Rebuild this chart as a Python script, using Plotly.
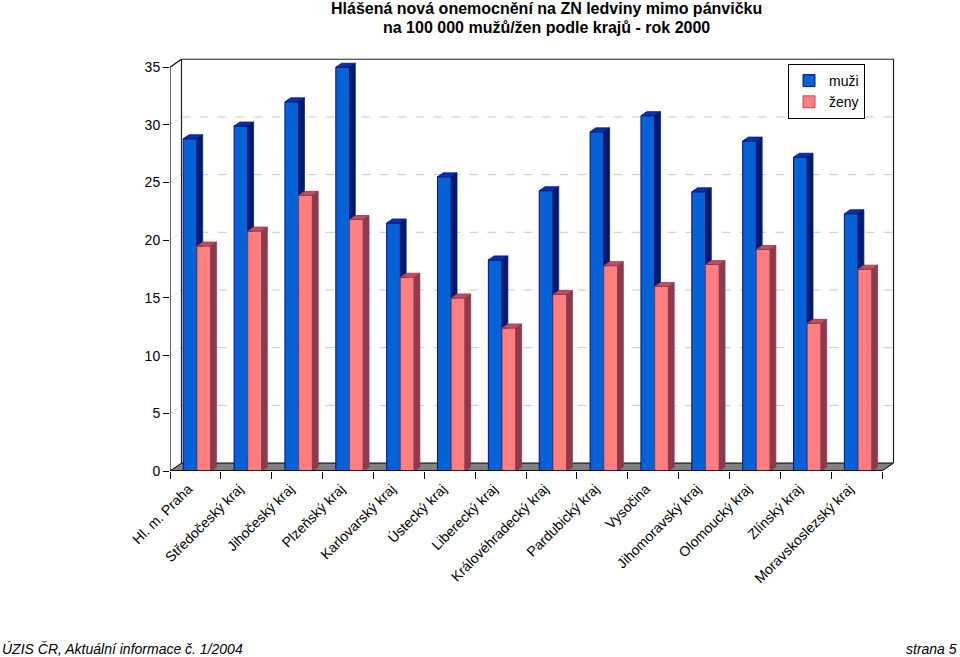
import plotly.graph_objects as go

categories = ["Hl. m. Praha", "Středočeský kraj", "Jihočeský kraj", "Plzeňský kraj",
              "Karlovarský kraj", "Ústecký kraj", "Liberecký kraj", "Královéhradecký kraj",
              "Pardubický kraj", "Vysočina", "Jihomoravský kraj", "Olomoucký kraj",
              "Zlínský kraj", "Moravskoslezský kraj"]
muzi = [28.8, 29.9, 32.0, 35.0, 21.5, 25.5, 18.3, 24.3, 29.4, 30.8, 24.2, 28.6, 27.2, 22.3]
zeny = [19.5, 20.8, 23.9, 21.8, 16.8, 15.0, 12.4, 15.3, 17.8, 16.0, 17.9, 19.2, 12.8, 17.5]
yticks = [0, 5, 10, 15, 20, 25, 30, 35]
series_names = ["muži", "ženy"]

# geometry (data units)
L, T, B = 170, 58, 186
W_PX, H_PX = 726, 413
XR = [-0.5, 13.775]
YR = [0, 35.8]
FDX, FDY = 0.226, 0.69        # floor / wall depth
BDX, BDY = 0.113, 0.345       # bar depth
BW = 0.27
OFF_M, OFF_Z = -0.24, 0.03

n = len(categories)
idx = list(range(n))

BLUE, BLUE_SIDE, BLUE_TOP, BLUE_LINE = "#0562D6", "#001A70", "#0A32A8", "#00107A"
PINK, PINK_SIDE, PINK_TOP, PINK_LINE = "#FF7F80", "#8C3A4C", "#C24C60", "#8C3A4C"
FONT = "Liberation Sans, Arial, sans-serif"

fig = go.Figure()

fig.add_trace(go.Bar(x=idx, y=muzi, name=series_names[0], width=BW, offset=OFF_M,
                     marker=dict(color=BLUE, line=dict(color=BLUE_LINE, width=1)),
                     hoverinfo="skip"))

def poly_trace(xs, ys, fill, line):
    return go.Scatter(x=xs, y=ys, mode="lines", fill="toself", fillcolor=fill,
                      line=dict(color=line, width=0.8), showlegend=False, hoverinfo="skip")

# blue side (visible part above pink front) and blue top
sx, sy, tx, ty = [], [], [], []
for i in idx:
    x1 = i + OFF_M + BW
    sx += [x1, x1, x1 + BDX, x1 + BDX, x1, None]
    sy += [zeny[i], muzi[i], muzi[i] + BDY, zeny[i], zeny[i], None]
    x0 = i + OFF_M
    tx += [x0, x1, x1 + BDX, x0 + BDX, x0, None]
    ty += [muzi[i], muzi[i], muzi[i] + BDY, muzi[i] + BDY, muzi[i], None]
fig.add_trace(poly_trace(sx, sy, BLUE_SIDE, BLUE_SIDE))
fig.add_trace(poly_trace(tx, ty, BLUE_TOP, BLUE_LINE))

fig.add_trace(go.Bar(x=idx, y=zeny, name=series_names[1], width=BW, offset=OFF_Z,
                     marker=dict(color=PINK, line=dict(color=PINK_LINE, width=0.8)),
                     hoverinfo="skip"))

sx, sy, tx, ty = [], [], [], []
for i in idx:
    x0 = i + OFF_Z
    x1 = x0 + BW
    sx += [x1, x1, x1 + BDX, x1 + BDX, x1, None]
    sy += [0, zeny[i], zeny[i] + BDY, BDY, 0, None]
    tx += [x0, x1, x1 + BDX, x0 + BDX, x0, None]
    ty += [zeny[i], zeny[i], zeny[i] + BDY, zeny[i] + BDY, zeny[i], None]
fig.add_trace(poly_trace(sx, sy, PINK_SIDE, PINK_SIDE))
fig.add_trace(poly_trace(tx, ty, PINK_TOP, PINK_LINE))

shapes = []
x_front_l, x_front_r = -0.5, n - 0.5
x_back_l, x_back_r = x_front_l + FDX, x_front_r + FDX
ytop = yticks[-1]
# back-wall gridlines and left-wall stubs
for v in yticks[1:-1]:
    shapes.append(dict(type="line", xref="x", yref="y", x0=x_back_l, x1=x_back_r,
                       y0=v + FDY, y1=v + FDY, layer="below",
                       line=dict(color="#C8C8C8", width=1, dash="dash")))
    shapes.append(dict(type="line", xref="x", yref="y", x0=x_front_l, x1=x_back_l,
                       y0=v, y1=v + FDY, layer="below",
                       line=dict(color="#D0D0D0", width=1, dash="dot")))
# floor
shapes.append(dict(type="path", xref="x", yref="y", layer="below",
                   path=f"M {x_front_l},0 L {x_front_r},0 L {x_back_r},{FDY} L {x_back_l},{FDY} Z",
                   fillcolor="#808080", line=dict(color="#000000", width=1)))
# back wall outline
shapes.append(dict(type="path", xref="x", yref="y", layer="below",
                   path=f"M {x_back_l},{FDY} L {x_back_l},{ytop + FDY} L {x_back_r},{ytop + FDY} L {x_back_r},{FDY}",
                   line=dict(color="#222222", width=1.2)))
# front axis line + left wall top edge
shapes.append(dict(type="path", xref="x", yref="y", layer="above",
                   path=f"M {x_front_l},0 L {x_front_l},{ytop} L {x_back_l},{ytop + FDY}",
                   line=dict(color="#000000", width=1.2)))
# front floor edge
shapes.append(dict(type="line", xref="x", yref="y", layer="above",
                   x0=x_front_l, x1=x_front_r, y0=0, y1=0,
                   line=dict(color="#000000", width=1.5)))

def px_x(p):
    return (p - L) / W_PX
def px_y(p):
    return (657 - B - p) / H_PX

annotations = [
    dict(text="<b>Hlášená nová onemocnění na ZN ledviny mimo pánvičku</b>", xref="paper", yref="paper",
         x=px_x(546), y=px_y(8), xanchor="center", yanchor="middle", showarrow=False,
         font=dict(family=FONT, size=16, color="#000")),
    dict(text="<b>na 100 000 mužů/žen podle krajů - rok 2000</b>", xref="paper", yref="paper",
         x=px_x(546), y=px_y(27), xanchor="center", yanchor="middle", showarrow=False,
         font=dict(family=FONT, size=16, color="#000")),
    dict(text="<i>ÚZIS ČR, Aktuální informace č. 1/2004</i>", xref="paper", yref="paper",
         x=px_x(0), y=px_y(649), xanchor="left", yanchor="middle", showarrow=False,
         font=dict(family=FONT, size=14, color="#000")),
    dict(text="<i>strana 5</i>", xref="paper", yref="paper",
         x=px_x(959), y=px_y(649), xanchor="right", yanchor="middle", showarrow=False,
         font=dict(family=FONT, size=14, color="#000")),
]

boundaries = [i - 0.5 for i in range(n + 1)]

fig.update_layout(
    width=960, height=657,
    margin=dict(l=L, r=960 - L - W_PX, t=T, b=B),
    paper_bgcolor="white", plot_bgcolor="white",
    barmode="overlay",
    showlegend=True,
    legend=dict(x=px_x(788), y=px_y(64), xanchor="left", yanchor="top",
                bordercolor="#000000", borderwidth=1, bgcolor="white",
                font=dict(family=FONT, size=14, color="#000"),
                itemwidth=30, tracegroupgap=0),
    shapes=shapes,
    annotations=annotations,
    xaxis=dict(range=XR, showgrid=False, zeroline=False, showline=False,
               tickmode="array", tickvals=idx, ticktext=categories, tickangle=-45,
               ticks="", ticklen=7, ticklabelstandoff=6, ticklabelshift=-7,
               minor=dict(tickmode="array", tickvals=boundaries, ticks="outside", ticklen=7,
                          tickcolor="#000", tickwidth=1.2, showgrid=False),
               tickfont=dict(family=FONT, size=14, color="#000")),
    yaxis=dict(range=YR, showgrid=False, zeroline=False, showline=False,
               tickmode="array", tickvals=yticks, ticks="outside", ticklen=6,
               tickcolor="#000", tickwidth=1.2,
               tickfont=dict(family=FONT, size=14, color="#000")),
)

fig.write_html("out.html", config={"displayModeBar": False},
               post_script="document.body.style.margin='0';document.body.style.padding='0';")
